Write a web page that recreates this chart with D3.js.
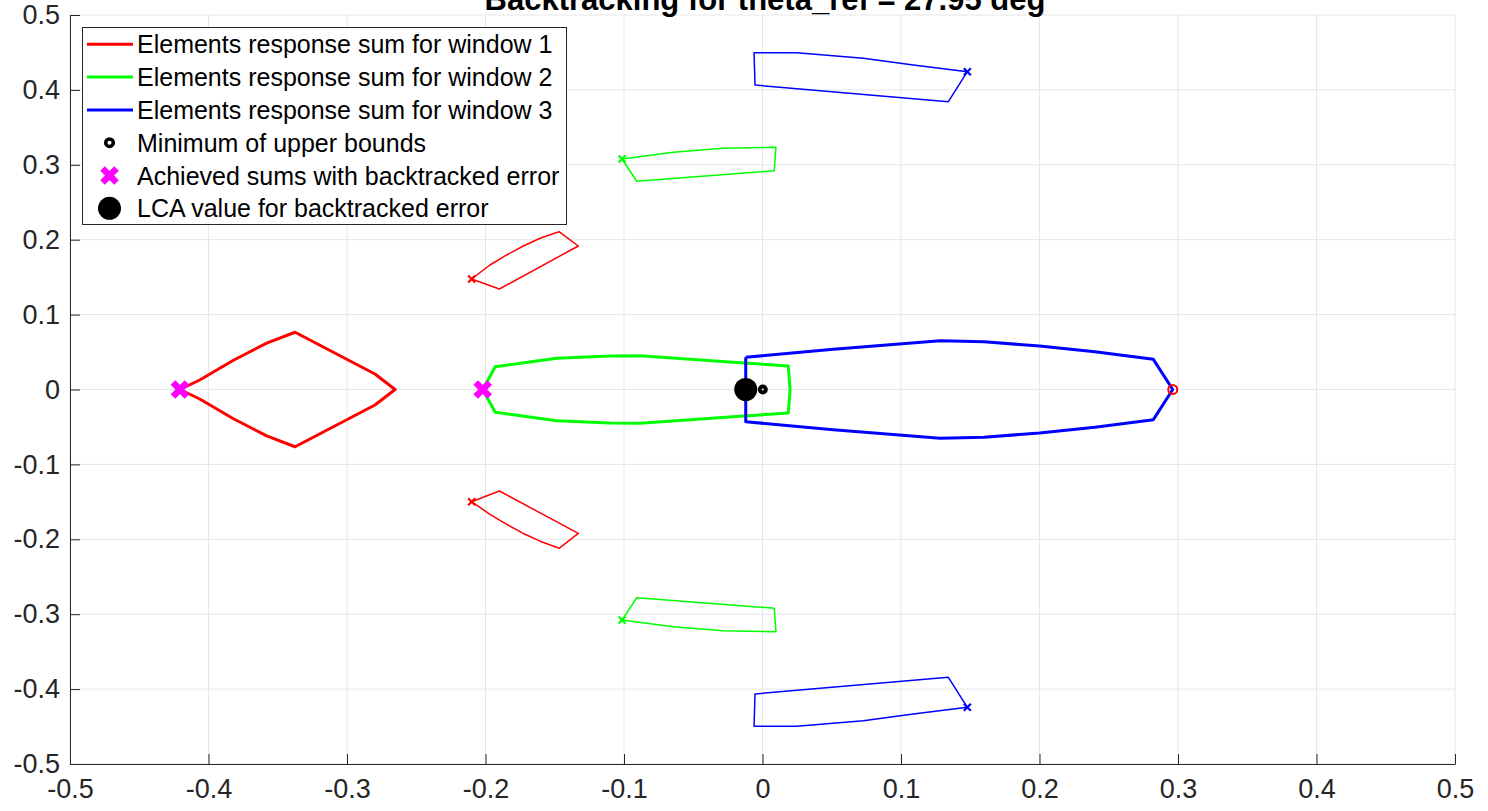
<!DOCTYPE html>
<html><head><meta charset="utf-8">
<script src="https://cdn.jsdelivr.net/npm/d3@7"></script>
<style>body{margin:0;background:#fff}svg{display:block}text{font-family:Arial,"Liberation Sans",sans-serif}</style>
</head><body><svg id="c" width="1488" height="811"></svg>
<script>
const titleText = "Backtracking for theta_ref = 27.95 deg";
const xTicks = [-0.5,-0.4,-0.3,-0.2,-0.1,0,0.1,0.2,0.3,0.4,0.5];
const yTicks = [-0.5,-0.4,-0.3,-0.2,-0.1,0,0.1,0.2,0.3,0.4,0.5];
const legendLabels = ["Elements response sum for window 1","Elements response sum for window 2","Elements response sum for window 3","Minimum of upper bounds","Achieved sums with backtracked error","LCA value for backtracked error"];

// window 1 (red)
const w1Main = [[-0.4206,0],[-0.406,0.013],[-0.382,0.039],[-0.358,0.062],[-0.3375,0.0764],[-0.2798,0.0207],[-0.2653,0],[-0.2798,-0.0207],[-0.3375,-0.0764],[-0.358,-0.062],[-0.382,-0.039],[-0.406,-0.013],[-0.4206,0]];
const w1Upper = [[-0.21,0.1475],[-0.19,0.1342],[-0.133,0.1916],[-0.1469,0.2107],[-0.1606,0.2019],[-0.1727,0.1916],[-0.1847,0.1796],[-0.1968,0.1662],[-0.21,0.1475]];
const w1Lower = [[-0.21,-0.1498],[-0.19,-0.1355],[-0.133,-0.192],[-0.1469,-0.212],[-0.1606,-0.2025],[-0.1727,-0.1922],[-0.1847,-0.18],[-0.1968,-0.1667],[-0.21,-0.1498]];
// window 2 (green)
const w2Main = [[-0.202,0],[-0.193,0.0304],[-0.1486,0.0416],[-0.11,0.0448],[-0.0884,0.045],[-0.0162,0.0358],[0.0186,0.0314],[0.0199,0],[0.0186,-0.0314],[-0.0162,-0.0358],[-0.0884,-0.045],[-0.11,-0.0448],[-0.1486,-0.0416],[-0.193,-0.0304],[-0.202,0]];
const w2Upper = [[-0.1014,0.3077],[-0.0908,0.278],[0.0085,0.2921],[0.0097,0.3234],[-0.0283,0.322],[-0.0644,0.3167],[-0.1014,0.3077]];
const w2Lower = [[-0.1014,-0.3077],[-0.0908,-0.278],[0.0085,-0.2921],[0.0097,-0.3234],[-0.0283,-0.322],[-0.0644,-0.3167],[-0.1014,-0.3077]];
// window 3 (blue)
const w3Main = [[-0.0121,0.043],[0.0511,0.0537],[0.1282,0.0652],[0.16,0.0638],[0.2,0.058],[0.24,0.0505],[0.2822,0.0403],[0.2962,0],[0.2822,-0.0403],[0.24,-0.0505],[0.2,-0.058],[0.16,-0.0638],[0.1282,-0.0652],[0.0511,-0.0537],[-0.0121,-0.043],[-0.0121,0.043]];
const w3Upper = [[0.1479,0.4243],[0.1342,0.3843],[-0.0054,0.4065],[-0.0061,0.4497],[0.0247,0.4497],[0.0728,0.4422],[0.1089,0.4332],[0.1479,0.4243]];
const w3Lower = [[0.1479,-0.4243],[0.1342,-0.3843],[-0.0054,-0.4065],[-0.0061,-0.4497],[0.0247,-0.4497],[0.0728,-0.4422],[0.1089,-0.4332],[0.1479,-0.4243]];
// markers
const startMarks = [{p:[-0.21,0.1475],c:"#ff0000"},{p:[-0.21,-0.1498],c:"#ff0000"},{p:[-0.1014,0.3077],c:"#00ff00"},{p:[-0.1014,-0.3077],c:"#00ff00"},{p:[0.1479,0.4243],c:"#0000ff"},{p:[0.1479,-0.4243],c:"#0000ff"}];
const achieved = [[-0.4206,0],[-0.202,0]];
const lcaPoint = [-0.0121,0];
const minUpper = [0.0002,0];
const tipCircle = [0.2962,0];

const svg = d3.select("#c");
const L=70,R=1455,T=15,B=764;
const x = d3.scaleLinear().domain([-0.5,0.5]).range([L,R]);
const y = d3.scaleLinear().domain([-0.5,0.5]).range([B,T]);

// grid
const g = svg.append("g");
g.selectAll(".gx").data(xTicks).join("line").attr("x1",d=>x(d)).attr("x2",d=>x(d)).attr("y1",T).attr("y2",B).attr("stroke","#e6e6e6").attr("stroke-width",1);
g.selectAll(".gy").data(yTicks).join("line").attr("y1",d=>y(d)).attr("y2",d=>y(d)).attr("x1",L).attr("x2",R).attr("stroke","#e6e6e6").attr("stroke-width",1);

// axes
const fmt = d => d===0 ? "0" : String(d);
const xa = svg.append("g").attr("transform",`translate(0,${B})`).call(d3.axisBottom(x).tickValues(xTicks).tickFormat(fmt).tickSizeInner(-10).tickSizeOuter(0).tickPadding(15));
const ya = svg.append("g").attr("transform",`translate(${L},0)`).call(d3.axisLeft(y).tickValues(yTicks).tickFormat(fmt).tickSizeInner(-10).tickSizeOuter(0).tickPadding(10));
[xa,ya].forEach(a=>{a.select(".domain").attr("stroke","#262626");a.selectAll(".tick line").attr("stroke","#262626");a.selectAll("text").attr("fill","#262626").style("font-size","27px").style("font-family","Arial, 'Liberation Sans', sans-serif");});
xa.selectAll("text").attr("dy","0.71em");

const line = d3.line().x(d=>x(d[0])).y(d=>y(d[1]));
const plot = svg.append("g");
const shapes = [
 {d:w1Main,c:"#ff0000",w:3},{d:w1Upper,c:"#ff0000",w:1.5},{d:w1Lower,c:"#ff0000",w:1.5},
 {d:w2Main,c:"#00ff00",w:3},{d:w2Upper,c:"#00ff00",w:1.5},{d:w2Lower,c:"#00ff00",w:1.5},
 {d:w3Main,c:"#0000ff",w:3},{d:w3Upper,c:"#0000ff",w:1.5},{d:w3Lower,c:"#0000ff",w:1.5}];
plot.selectAll("path.s").data(shapes).join("path").attr("d",s=>line(s.d)).attr("fill","none").attr("stroke",s=>s.c).attr("stroke-width",s=>s.w).attr("stroke-linejoin","round");

function xMark(sel, px, py, h, w, c){
  sel.append("path").attr("d",`M${px-h},${py-h}L${px+h},${py+h}M${px-h},${py+h}L${px+h},${py-h}`).attr("stroke",c).attr("stroke-width",w).attr("fill","none");
}
startMarks.forEach(m=>xMark(plot,x(m.p[0]),y(m.p[1]),3.5,2.2,m.c));
plot.append("circle").attr("cx",x(tipCircle[0])).attr("cy",y(tipCircle[1])).attr("r",4.5).attr("fill","none").attr("stroke","#ff0000").attr("stroke-width",2);
plot.append("circle").attr("cx",x(lcaPoint[0])).attr("cy",y(lcaPoint[1])).attr("r",11.5).attr("fill","#000");
plot.append("circle").attr("cx",x(minUpper[0])).attr("cy",y(minUpper[1])).attr("r",3).attr("fill","#fff").attr("stroke","#000").attr("stroke-width",4);
achieved.forEach(p=>xMark(plot,x(p[0]),y(p[1]),7,6.5,"#ff00ff"));

// title
svg.append("text").attr("x",765).attr("y",10).attr("text-anchor","middle").style("font-size","31px").style("font-weight","bold").attr("fill","#000").text(titleText);

// legend
const lg = svg.append("g");
lg.append("rect").attr("x",82.5).attr("y",27.5).attr("width",484).attr("height",197).attr("fill","#fff").attr("stroke","#262626").attr("stroke-width",1);
const rowY = i => 44.3 + i*32.8;
const legCols = ["#ff0000","#00ff00","#0000ff"];
legendLabels.forEach((t,i)=>{
  const cy = rowY(i);
  if(i<3) lg.append("line").attr("x1",87).attr("x2",133).attr("y1",cy).attr("y2",cy).attr("stroke",legCols[i]).attr("stroke-width",3);
  else if(i===3) lg.append("circle").attr("cx",109.5).attr("cy",cy).attr("r",3.8).attr("fill","#fff").attr("stroke","#000").attr("stroke-width",3.5);
  else if(i===4) xMark(lg,109.5,cy,7,6.5,"#ff00ff");
  else lg.append("circle").attr("cx",109.5).attr("cy",cy).attr("r",11.5).attr("fill","#000");
  lg.append("text").attr("x",137).attr("y",cy).attr("dy","0.36em").style("font-size","25px").attr("fill","#000").text(t);
});
</script></body></html>
